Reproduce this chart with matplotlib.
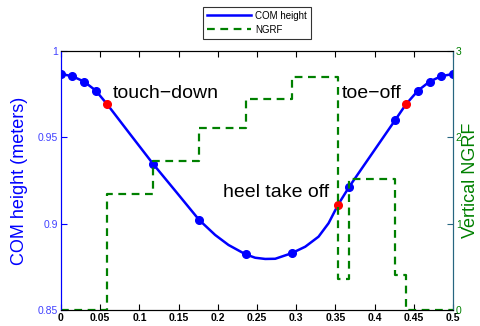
import matplotlib
matplotlib.use("Agg")
import matplotlib.pyplot as plt

plt.rcParams['font.family'] = ['Liberation Sans', 'DejaVu Sans']

# COM height curve
curve_x = [0.0, 0.0144, 0.0294, 0.0443, 0.0588, 0.088, 0.1174, 0.147, 0.1762,
           0.1966, 0.2136, 0.2353, 0.2476, 0.2604, 0.2732, 0.294, 0.3115,
           0.3284, 0.3412, 0.3532, 0.3676, 0.4263, 0.44, 0.4553, 0.4701,
           0.4847, 0.5]
curve_y = [0.9868, 0.9855, 0.9824, 0.9772, 0.9693, 0.952, 0.9347, 0.9184, 0.9022,
           0.8935, 0.8877, 0.8823, 0.8803, 0.8796, 0.8797, 0.8829, 0.8867,
           0.8925, 0.9003, 0.9109, 0.9215, 0.9602, 0.9693, 0.9772, 0.9824,
           0.9855, 0.9868]

# blue sample markers
blue_x = [0.0, 0.0144, 0.0294, 0.0443, 0.1174, 0.1762, 0.2353, 0.294,
          0.3676, 0.4263, 0.4553, 0.4701, 0.4847, 0.5]
blue_y = [0.9868, 0.9855, 0.9824, 0.9772, 0.9347, 0.9022, 0.8823, 0.8829,
          0.9215, 0.9602, 0.9772, 0.9824, 0.9855, 0.9868]

# red event markers
red_x = [0.0588, 0.3532, 0.44]
red_y = [0.9693, 0.9109, 0.9693]

# NGRF step line
ngrf_x = [0.0, 0.0588, 0.0588, 0.1176, 0.1176, 0.1765, 0.1765, 0.2353, 0.2353,
          0.2941, 0.2941, 0.3532, 0.3532, 0.3676, 0.3676, 0.4265, 0.4265, 0.44,
          0.44, 0.5]
ngrf_y = [0.0, 0.0, 1.34, 1.34, 1.725, 1.725, 2.11, 2.11, 2.444, 2.444, 2.70,
          2.70, 0.36, 0.36, 1.523, 1.523, 0.406, 0.406, 0.0, 0.0]

x_ticks = [0, 0.05, 0.1, 0.15, 0.2, 0.25, 0.3, 0.35, 0.4, 0.45, 0.5]
x_ticklabels = ['0', '0.05', '0.1', '0.15', '0.2', '0.25', '0.3', '0.35', '0.4', '0.45', '0.5']
left_ticks = [0.85, 0.9, 0.95, 1.0]
left_ticklabels = ['0.85', '0.9', '0.95', '1']
right_ticks = [0, 1, 2, 3]
right_ticklabels = ['0', '1', '2', '3']

BLUE = (0, 0, 1)
GREEN = (0, 0.5, 0)
RED = (1, 0, 0)
TEAL = (0.15, 0.4, 0.5)

fig = plt.figure(figsize=(4.8, 3.26), dpi=100)
ax = fig.add_axes([0.127, 0.049, 0.817, 0.794])
ax2 = ax.twinx()

lc, = ax.plot(curve_x, curve_y, color=BLUE, lw=1.8, label='COM height', zorder=3)
ax.plot(blue_x, blue_y, 'o', color=BLUE, ms=5.5, zorder=4)
ax.plot(red_x, red_y, 'o', color=RED, ms=5.5, zorder=5)

ln, = ax2.plot(ngrf_x, ngrf_y, color=GREEN, lw=1.6, ls=(0, (3.5, 2.5)), label='NGRF')

ax.set_xlim(0, 0.5)
ax.set_ylim(0.85, 1.0)
ax2.set_ylim(0, 3)

ax.set_xticks(x_ticks)
ax.set_xticklabels(x_ticklabels, fontsize=7.5, fontweight='bold')
ax.set_yticks(left_ticks)
ax.set_yticklabels(left_ticklabels, fontsize=7.5)
ax2.set_yticks(right_ticks)
ax2.set_yticklabels(right_ticklabels, fontsize=7.5)

ax.tick_params(axis='x', direction='in', length=4, top=True, pad=2)
ax.tick_params(axis='y', direction='in', length=4, colors=BLUE, pad=2)
ax2.tick_params(axis='y', direction='in', length=4, colors=TEAL, pad=2)
for lab in ax2.get_yticklabels():
    lab.set_color(GREEN)
for lab in ax.get_yticklabels():
    lab.set_color((0.25, 0.25, 1))

ax.spines['left'].set_color(BLUE)
ax2.spines['left'].set_color(BLUE)
ax2.spines['right'].set_color(TEAL)
ax.spines['right'].set_color(TEAL)

ax.set_ylabel('COM height (meters)', color=BLUE, fontsize=13, labelpad=7)
ax2.set_ylabel('Vertical NGRF', color=GREEN, fontsize=13, labelpad=0)

ax.text(0.066, 0.9756, 'touch\u2212down', fontsize=14, va='center', ha='left', zorder=6)
ax.text(0.3583, 0.9756, 'toe\u2212off', fontsize=14, va='center', ha='left', zorder=6)
ax.text(0.2068, 0.918, 'heel take off', fontsize=14, va='center', ha='left', zorder=6)

leg = fig.legend([lc, ln], ['COM height', 'NGRF'], loc='upper center',
                 bbox_to_anchor=(257 / 480, 1 - 7 / 326), fontsize=7,
                 frameon=True, fancybox=False, edgecolor='black',
                 handlelength=4.5, handletextpad=0.4, borderpad=0.4,
                 labelspacing=0.4, borderaxespad=0)
leg.get_frame().set_linewidth(0.8)

fig.savefig('out.png', dpi=100)
